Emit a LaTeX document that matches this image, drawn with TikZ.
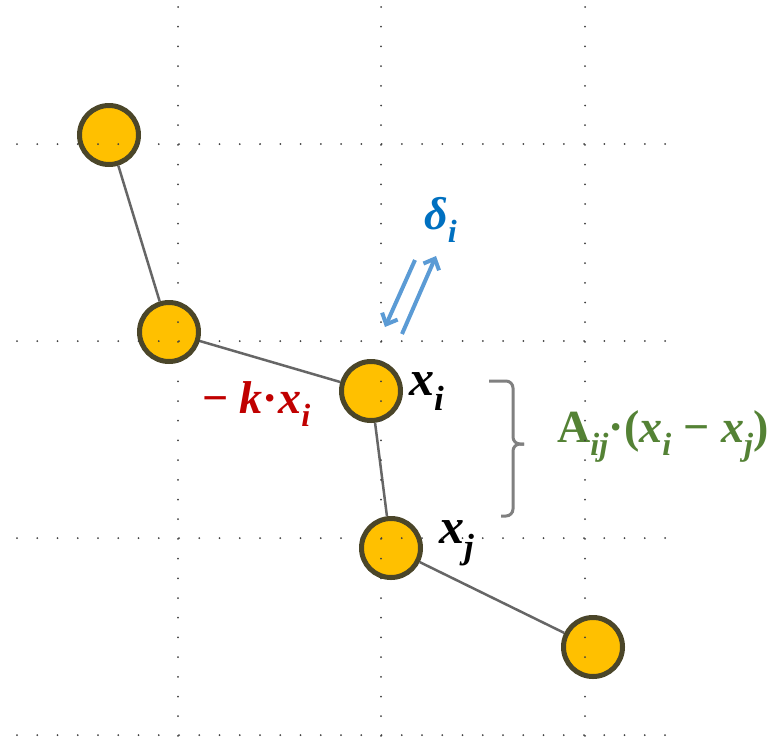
\documentclass[tikz,border=0pt]{standalone}
\usepackage{fontspec}
\setmainfont{Liberation Serif}
\usepackage{xcolor}
\usetikzlibrary{arrows.meta}

\definecolor{ballfill}{HTML}{FFC000}
\definecolor{balldraw}{HTML}{4B4629}
\definecolor{linkgray}{HTML}{666666}
\definecolor{bracegray}{HTML}{808080}
\definecolor{forcered}{HTML}{C00000}
\definecolor{deltablue}{HTML}{0070C0}
\definecolor{arrowblue}{HTML}{5B9BD5}
\definecolor{coupgreen}{HTML}{548235}

\begin{document}
\begin{tikzpicture}[x=1pt, y=-1pt,
    ball/.style={circle, draw=balldraw, line width=5pt, fill=ballfill, minimum size=59pt, inner sep=0pt},
    link/.style={draw=linkgray, line width=2.5pt},
    lbl/.style={inner sep=0pt, anchor=base west, font=\fontsize{46}{50}\selectfont\bfseries\itshape},
    biglbl/.style={lbl, font=\fontsize{50}{54}\selectfont\bfseries\itshape},
    barrow/.style={arrowblue, line width=4pt, -{Straight Barb[length=9pt, width=17pt, line width=4pt]}},
    griddot/.style={fill=black!75}
  ]
    \useasboundingbox (0,0) rectangle (770,742);

    % --- CHAIN OF AGENTS ---
    \node[ball] (b1) at (109,135) {};
    \node[ball] (b2) at (169,332) {};
    \node[ball] (xi) at (371,391) {};
    \node[ball] (xj) at (391,548) {};
    \node[ball] (b5) at (593,647) {};

    \draw[link] (b1) -- (b2);
    \draw[link] (b2) -- (xi);
    \draw[link] (xi) -- (xj);
    \draw[link] (xj) -- (b5);

    % --- LABELS ---
    \node[biglbl] (lxi) at (409,395) {x\textsubscript{i}};
    \node[biglbl] (lxj) at (439,543) {x\textsubscript{j}};
    \node[lbl, text=forcered] (lk) at (202,413) {{\upshape −} k{\upshape ·}x\textsubscript{i}};
    \node[biglbl, text=deltablue, font=\fontsize{46}{50}\selectfont\bfseries\itshape] (ld) at (424,229) {δ\textsubscript{i}};
    \node[lbl, text=coupgreen] (la) at (557,442) {{\upshape A}\textsubscript{ij}{\upshape ·(}x\textsubscript{i} {\upshape −} x\textsubscript{j}{\upshape )}};

    % --- PERTURBATION ARROWS ---
    \coordinate (d1s) at (415,260);
    \coordinate (d1e) at (385,327);
    \coordinate (d2s) at (402,334);
    \coordinate (d2e) at (436,256);
    \draw[barrow] (d1s) -- (d1e);
    \draw[barrow] (d2s) -- (d2e);

    % --- BRACE ---
    \coordinate (brtop) at (489,381);
    \coordinate (brtip) at (524,444);
    \coordinate (brbot) at (501,516);
    \draw[bracegray, line width=3pt, rounded corners=7pt] (brtop) -- (513,381) -- (513,444) -- (brtip);
    \draw[bracegray, line width=3pt, rounded corners=7pt] (brtip) -- (513,444) -- (513,516) -- (brbot);

    % --- DOTTED GRID ---
    \foreach \y in {144,341,538,735}
      \foreach \i in {0,...,32}
        \fill[griddot] (17+\i*20.25,\y) circle (1pt);
    \foreach \x in {178,381,585}
      \foreach \i in {0,...,37}
        \fill[griddot] (\x,7+\i*19.7) circle (1pt);
\end{tikzpicture}
\end{document}
